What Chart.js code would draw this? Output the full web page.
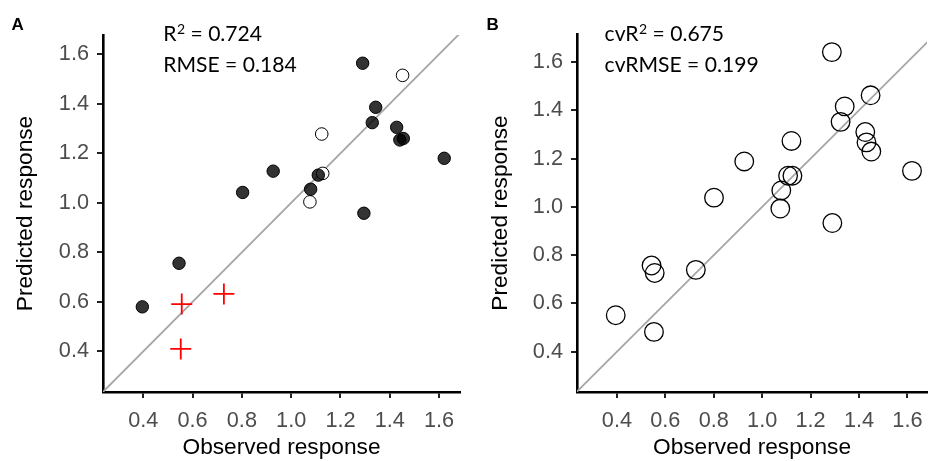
<!DOCTYPE html>
<html>
<head>
<meta charset="utf-8">
<script src="https://cdn.jsdelivr.net/npm/chart.js@4/dist/chart.umd.min.js"></script>
<style>
  html, body { margin: 0; padding: 0; background: #fff; }
  #wrap { position: relative; width: 928px; height: 461px; overflow: hidden; }
  canvas { position: absolute; top: 0; }
  #cA { left: 0; }
  #cB { left: 464px; }
</style>
</head>
<body>
<div id="wrap">
  <canvas id="cA" width="464" height="461"></canvas>
  <canvas id="cB" width="464" height="461"></canvas>
</div>
<script>
// ---------- data ----------
// Panel A: fitted model
const obsA_fill  = [1.290, 1.343, 1.329, 1.428, 1.441, 1.455, 1.621, 0.927, 1.110, 1.079, 0.803, 1.295, 0.545, 0.396];
const predA_fill = [1.564, 1.386, 1.324, 1.305, 1.254, 1.260, 1.180, 1.128, 1.112, 1.055, 1.042, 0.958, 0.756, 0.580];
const obsA_open  = [1.452, 1.124, 1.128, 1.076];
const predA_open = [1.515, 1.278, 1.119, 1.004];
const obsA_out   = [0.556, 0.727, 0.552];
const predA_out  = [0.591, 0.632, 0.410];
// Panel B: cross-validated
const obsB  = [1.288, 1.448, 1.341, 1.324, 1.426, 1.431, 1.451, 1.619, 1.121, 0.926, 1.107, 1.125, 1.079, 0.801, 1.075, 1.290, 0.543, 0.556, 0.726, 0.395, 0.553];
const predB = [1.641, 1.462, 1.416, 1.352, 1.310, 1.267, 1.229, 1.149, 1.273, 1.188, 1.129, 1.129, 1.068, 1.038, 0.993, 0.933, 0.757, 0.726, 0.739, 0.551, 0.482];
// identity line
const lineX = [0, 2];
// ticks
const tickVals = [0.4, 0.6, 0.8, 1.0, 1.2, 1.4, 1.6];
// stats text: [prefix, superscript, rest] and second line
const statsA = [['R', '2', ' = 0.724'], 'RMSE = 0.184'];
const statsB = [['cvR', '2', ' = 0.675'], 'cvRMSE = 0.199'];
const panelLabels = ['A', 'B'];
// axis limits
const limA = { xmin: 0.2365, xmax: 1.685, ymin: 0.236, ymax: 1.678 };
const limB = { xmin: 0.235, xmax: 1.681, ymin: 0.233, ymax: 1.716 };

const pts = (xs, ys) => xs.map((x, i) => ({ x: x, y: ys[i] }));

const TICK_FONT = { family: '"Liberation Sans", Arial, sans-serif', size: 21.7 };
const TITLE_FONT = { family: '"Liberation Sans", Arial, sans-serif', size: 22.7 };

function makeScales(lim, yAxisWidth, yTitlePad) {
  const common = {
    type: 'linear',
    afterBuildTicks: s => { s.ticks = tickVals.map(v => ({ value: v })); },
    grid: { drawOnChartArea: false, drawTicks: true, tickLength: 6, color: '#222', lineWidth: 2 },
    border: { display: true, color: '#000', width: 2.6 },
  };
  return {
    x: Object.assign({}, common, {
      position: 'bottom',
      min: lim.xmin, max: lim.xmax,
      ticks: { color: '#4d4d4d', font: TICK_FONT, padding: 10, maxRotation: 0, autoSkip: false,
               callback: v => Number(v).toFixed(1) },
      title: { display: true, text: 'Observed response', color: '#000', font: TITLE_FONT,
               padding: { top: 0, bottom: 0 } },
      afterFit: s => { s.height = 69; s.paddingLeft = 0; s.paddingRight = 0; }
    }),
    y: Object.assign({}, common, {
      position: 'left',
      min: lim.ymin, max: lim.ymax,
      ticks: { color: '#4d4d4d', font: TICK_FONT, padding: 8, autoSkip: false,
               callback: v => Number(v).toFixed(1) },
      title: { display: true, text: 'Predicted response', color: '#000', font: TITLE_FONT,
               padding: { top: yTitlePad, bottom: 0 } },
      afterFit: s => { s.width = yAxisWidth; s.paddingTop = 0; s.paddingBottom = 0; }
    })
  };
}

function textPlugin(lines, tx, ty1, ty2, letter, letterX) {
  return {
    id: 'statsText',
    afterDraw(chart) {
      const ctx = chart.ctx;
      const xs = chart.scales.x, ys = chart.scales.y;
      const px = xs.getPixelForValue(tx);
      const py1 = ys.getPixelForValue(ty1);
      const py2 = ys.getPixelForValue(ty2);
      ctx.save();
      ctx.fillStyle = '#000';
      ctx.textAlign = 'left';
      ctx.textBaseline = 'alphabetic';
      const mainFont = '21.1px Lato, "Open Sans", sans-serif';
      const supFont = '14px Lato, "Open Sans", sans-serif';
      // first line with superscript
      let x = px;
      ctx.font = mainFont;
      ctx.fillText(lines[0][0], x, py1);
      x += ctx.measureText(lines[0][0]).width + 0.5;
      ctx.font = supFont;
      ctx.fillText(lines[0][1], x, py1 - 6.5);
      x += ctx.measureText(lines[0][1]).width;
      ctx.font = mainFont;
      ctx.fillText(lines[0][2], x, py1);
      // second line
      ctx.fillText(lines[1], px, py2);
      // panel letter
      ctx.font = 'bold 17px "Liberation Sans", Arial, sans-serif';
      ctx.fillText(letter, letterX, 30);
      ctx.restore();
    }
  };
}

const lineDataset = () => ({
  type: 'line',
  data: pts(lineX, lineX),
  borderColor: '#a6a6a6',
  borderWidth: 1.8,
  pointRadius: 0,
  fill: false,
  order: 10
});

const baseOptions = (scales, padRight, padTop) => ({
  responsive: false,
  animation: false,
  devicePixelRatio: 1,
  layout: { autoPadding: false, padding: { left: 0, right: padRight, top: padTop, bottom: 0 } },
  plugins: { legend: { display: false }, tooltip: { enabled: false } },
  scales: scales
});

// Panel A
new Chart(document.getElementById('cA'), {
  type: 'scatter',
  data: {
    datasets: [
      lineDataset(),
      { data: pts(obsA_fill, predA_fill), pointStyle: 'circle', pointRadius: 6.2,
        backgroundColor: 'rgba(0,0,0,0.8)', borderColor: '#000', borderWidth: 1, order: 2 },
      { data: pts(obsA_open, predA_open), pointStyle: 'circle', pointRadius: 6.3,
        backgroundColor: '#fff', borderColor: '#000', borderWidth: 1, order: 3 },
      { data: pts(obsA_out, predA_out), pointStyle: 'cross', pointRadius: 10.5,
        backgroundColor: '#ff0000', borderColor: '#ff0000', borderWidth: 1.8, order: 1 }
    ]
  },
  options: baseOptions(makeScales(limA, 103, 12.4), 4, 35),
  plugins: [textPlugin(statsA, 0.481, 1.654, 1.528, panelLabels[0], 11.5)]
});

// Panel B
new Chart(document.getElementById('cB'), {
  type: 'scatter',
  data: {
    datasets: [
      lineDataset(),
      { data: pts(obsB, predB), pointStyle: 'circle', pointRadius: 9.3,
        backgroundColor: 'rgba(255,255,255,0)', borderColor: '#000', borderWidth: 1.3, order: 1 }
    ]
  },
  options: baseOptions(makeScales(limB, 113, 23.4), 1, 34),
  plugins: [textPlugin(statsB, 0.349, 1.688, 1.560, panelLabels[1], 22.5)]
});
</script>
</body>
</html>
